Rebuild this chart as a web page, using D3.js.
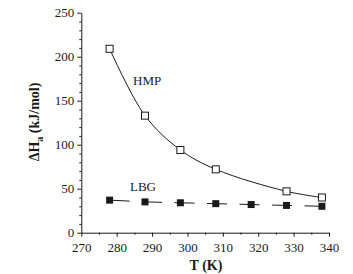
<!DOCTYPE html>
<html>
<head>
<meta charset="utf-8">
<script src="https://cdn.jsdelivr.net/npm/d3@7"></script>
<style>
  body { margin: 0; background: #fff; }
  svg { display: block; }
  text { font-family: "Liberation Serif", serif; fill: #1a1a1a; }
</style>
</head>
<body>
<div class="chart"></div>
<script>
// data
var tempHMP = [278, 288, 298, 308, 328, 338];
var valHMP = [209, 133, 94, 72, 47, 40];
var tempLBG = [278, 288, 298, 308, 318, 328, 338];
var valLBG = [37, 35, 34, 33, 32, 31, 30];
var xTicks = [270, 280, 290, 300, 310, 320, 330, 340];
var yTicks = [0, 50, 100, 150, 200, 250];

var ink = "#1a1a1a";

var svg = d3.select(".chart")
   .append("svg")
   .attr("width", 353)
   .attr("height", 274)
   .attr("font-family", "Liberation Serif");

var x = d3.scaleLinear().domain([270, 340]).range([81.3, 329]);
var y = d3.scaleLinear().domain([0, 250]).range([232.7, 12.7]);

// minor ticks first
svg.append("g")
   .attr("transform", "translate(0,232.7)")
   .call(d3.axisBottom(x).tickValues(d3.range(275, 340, 10)).tickSize(2).tickFormat(""))
   .call(function(g){ g.select(".domain").remove(); });
svg.append("g")
   .attr("transform", "translate(81.3,0)")
   .call(d3.axisLeft(y).tickValues(d3.range(10, 250, 10).filter(function(d){ return d % 50 != 0; })).tickSize(2).tickFormat(""))
   .call(function(g){ g.select(".domain").remove(); });

svg.append("g")
   .attr("transform", "translate(0,232.7)")
   .call(d3.axisBottom(x).tickValues(xTicks).tickSize(4).tickSizeOuter(0).tickPadding(6));
svg.append("g")
   .attr("transform", "translate(81.3,0)")
   .call(d3.axisLeft(y).tickValues(yTicks).tickSize(4).tickSizeOuter(0).tickPadding(3));

svg.selectAll("g").attr("font-family", "Liberation Serif");
svg.selectAll(".tick line, .domain").attr("stroke", ink);
svg.selectAll(".tick text")
   .attr("font-size", "13px")
   .attr("fill", ink);

// axis titles
svg.append("text")
   .attr("x", 206)
   .attr("y", 270)
   .attr("text-anchor", "middle")
   .attr("font-size", "14px")
   .attr("font-weight", "bold")
   .text("T (K)");

var yt = svg.append("text")
   .attr("transform", "translate(39,122) rotate(-90)")
   .attr("text-anchor", "middle")
   .attr("font-size", "14px")
   .attr("font-weight", "bold");
yt.append("tspan").text("ΔH");
yt.append("tspan").attr("font-size", "10px").attr("dy", 4).text("a");
yt.append("tspan").attr("dy", -4).text(" (kJ/mol)");

var hmp = tempHMP.map(function(t, i){ return [t, valHMP[i]]; });
var lbg = tempLBG.map(function(t, i){ return [t, valLBG[i]]; });

var line = d3.line()
   .x(function(d){ return x(d[0]); })
   .y(function(d){ return y(d[1]); });

// HMP smooth curve
svg.append("path")
   .attr("d", line.curve(d3.curveCatmullRom)(hmp))
   .attr("fill", "none")
   .attr("stroke", ink)
   .attr("stroke-width", 1);

// LBG dashed line
svg.append("path")
   .attr("d", line.curve(d3.curveLinear)(lbg))
   .attr("fill", "none")
   .attr("stroke", ink)
   .attr("stroke-width", 1)
   .attr("stroke-dasharray", "20,12.5");

var s = 7;
svg.selectAll(".hmp")
   .data(hmp)
   .enter()
   .append("rect")
   .attr("x", function(d){ return x(d[0]) - s / 2; })
   .attr("y", function(d){ return y(d[1]) - s / 2; })
   .attr("width", s)
   .attr("height", s)
   .attr("fill", "#fff")
   .attr("stroke", ink)
   .attr("stroke-width", 1);

svg.selectAll(".lbg")
   .data(lbg)
   .enter()
   .append("rect")
   .attr("x", function(d){ return x(d[0]) - s / 2; })
   .attr("y", function(d){ return y(d[1]) - s / 2; })
   .attr("width", s)
   .attr("height", s)
   .attr("fill", ink);

svg.append("text")
   .attr("x", 133)
   .attr("y", 85)
   .attr("font-size", "13px")
   .text("HMP");
svg.append("text")
   .attr("x", 130)
   .attr("y", 191)
   .attr("font-size", "13px")
   .text("LBG");
</script>
</body>
</html>
